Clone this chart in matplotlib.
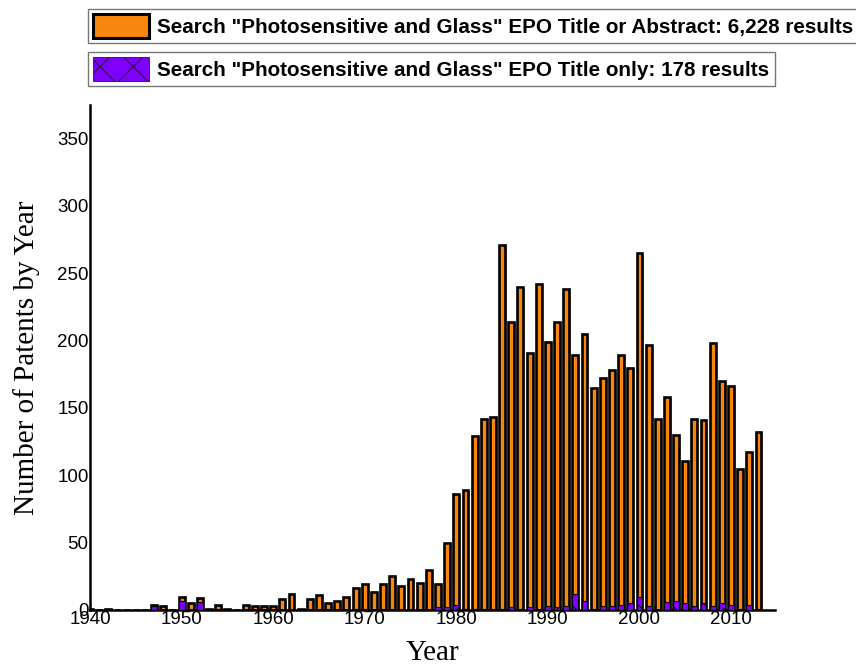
import numpy as np
import matplotlib
matplotlib.use("Agg")
import matplotlib.pyplot as plt
import matplotlib.patches as mpatches
import matplotlib.patheffects as pe

# ! data (patents per year)
years = list(range(1940, 2014))
all_hits = [1, 0, 1, 0, 0, 0, 0, 4, 3, 0,          # 1940s
            10, 5, 9, 1, 4, 1, 0, 4, 3, 3,         # 1950s
            3, 8, 12, 1, 8, 11, 5, 7, 10, 16,      # 1960s
            19, 13, 19, 25, 18, 23, 20, 30, 19, 50,  # 1970s
            86, 89, 129, 142, 143, 271, 214, 240, 191, 242,  # 1980s
            199, 214, 238, 189, 205, 165, 172, 178, 189, 180,  # 1990s
            265, 197, 142, 158, 130, 111, 142, 141, 198, 170,  # 2000s
            166, 105, 117, 132]
title_hits = [0, 0, 0, 0, 0, 0, 0, 3, 0, 0,
              7, 0, 6, 0, 0, 0, 0, 0, 0, 0,
              0, 0, 0, 0, 0, 0, 0, 0, 0, 1,
              1, 0, 1, 0, 0, 0, 0, 0, 2, 2,
              4, 1, 1, 1, 1, 1, 2, 1, 2, 1,
              3, 2, 3, 12, 7, 1, 3, 3, 4, 5,
              10, 3, 0, 6, 7, 5, 3, 5, 3, 5,
              4, 1, 4, 1]
label_all = 'Search "Photosensitive and Glass" EPO Title or Abstract: 6,228 results'
label_title = 'Search "Photosensitive and Glass" EPO Title only: 178 results'

orange = "#F7860F"
purple = "#7F00FF"

plt.rcParams["hatch.linewidth"] = 0.8
fig = plt.figure(figsize=(8.56, 6.69), dpi=100)
ax = fig.add_axes([90 / 856, 59 / 669, 685 / 856, 505 / 669])

shadow = [pe.SimplePatchShadow(offset=(1.2, -1.2), shadow_rgbFace="#999999", alpha=0.5), pe.Normal()]
b1 = ax.bar(years, all_hits, width=0.64, color=orange, edgecolor="black", linewidth=1.9, zorder=2)
for p in b1:
    p.set_path_effects(shadow)
ax.bar(years, title_hits, width=0.64, color=purple, edgecolor="black", linewidth=0.8,
       hatch="x", zorder=3)

ax.set_xlim(1940, 2014.8)
ax.set_ylim(0, 375)
ax.set_xticks(range(1940, 2011, 10))
ax.set_yticks(range(0, 351, 50))
ax.tick_params(length=0, labelsize=13.5, pad=1)
for t in ax.get_xticklabels() + ax.get_yticklabels():
    t.set_family("Liberation Sans")
for s in ["top", "right"]:
    ax.spines[s].set_visible(False)
for s in ["left", "bottom"]:
    ax.spines[s].set_linewidth(1.8)
ax.set_ylabel("Number of Patents by Year", family="Liberation Serif", fontsize=21, labelpad=12)
ax.set_xlabel("Year", family="Liberation Serif", fontsize=21, labelpad=8)

# ! two separate legend boxes above the axes
leg_font = {"family": "Liberation Sans", "weight": "bold", "size": 14.9}
h1 = mpatches.Patch(facecolor=orange, edgecolor="black", linewidth=2.2)
h2 = mpatches.Patch(facecolor=purple, edgecolor="#222222", linewidth=0.6, hatch="x")
common = dict(loc="upper left", prop=leg_font, fancybox=False, edgecolor="#777777",
              framealpha=1, handlelength=2.7, handleheight=1.4, handletextpad=0.4,
              borderpad=0.25, borderaxespad=0)
l1 = fig.legend([h1], [label_all], bbox_to_anchor=(88 / 856, 1 - 9 / 669), **common)
l1.get_frame().set_linewidth(1.0)
l2 = fig.legend([h2], [label_title], bbox_to_anchor=(88 / 856, 1 - 52 / 669), **common)
l2.get_frame().set_linewidth(1.0)

fig.savefig("out.png", dpi=100)
